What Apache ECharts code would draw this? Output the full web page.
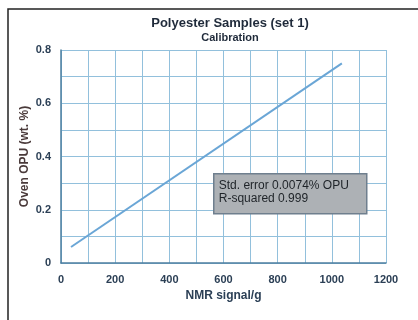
<!DOCTYPE html>
<html>
<head>
<meta charset="utf-8">
<script src="https://cdn.jsdelivr.net/npm/echarts@6/dist/echarts.min.js"></script>
<style>
html, body { margin: 0; padding: 0; background: #fff; }
#myChart { width: 418px; height: 320px; }
</style>
</head>
<body>
<div id="myChart"></div>
<script>
// calibration line
var nmrSignal = [37, 1037];
var ovenOpu = [0.06, 0.75];
var xTicks = [0, 200, 400, 600, 800, 1000, 1200];
var yTicks = [0, 0.2, 0.4, 0.6, 0.8];
var statLines = ['Std. error 0.0074% OPU', 'R-squared 0.999'];

var lineData = nmrSignal.map(function (x, i) { return [x, ovenOpu[i]]; });

var myChart = echarts.init(document.getElementById('myChart'));

var labelFont = {
	fontFamily: 'Liberation Sans',
	fontWeight: 'bold',
	fontSize: 11,
	color: '#2b3f55'
};

var option = {
	animation: false,
	backgroundColor: '#fff',
	title: {
		text: 'Polyester Samples (set 1)',
		subtext: 'Calibration',
		left: 225,
		textAlign: 'center',
		top: 12,
		itemGap: 2,
		textStyle: { fontFamily: 'Liberation Sans', fontWeight: 'bold', fontSize: 13, color: '#1f2a3a' },
		subtextStyle: { fontFamily: 'Liberation Sans', fontWeight: 'bold', fontSize: 11, color: '#1f2a3a' }
	},
	grid: { left: 61, top: 50, right: 32, bottom: 57 },
	xAxis: {
		type: 'value',
		min: 0,
		max: 1200,
		interval: 100,
		name: 'NMR signal/g',
		nameLocation: 'middle',
		nameGap: 27,
		nameMoveOverlap: false,
		nameTextStyle: Object.assign({}, labelFont, { fontSize: 12 }),
		axisLine: { show: true, lineStyle: { color: '#4d7fa0', width: 1.5 } },
		axisTick: { show: false },
		axisLabel: Object.assign({
			margin: 11,
			formatter: function (v) { return xTicks.indexOf(v) >= 0 ? String(v) : ''; }
		}, labelFont),
		splitLine: { show: true, lineStyle: { color: '#92c0dc', width: 1 } }
	},
	yAxis: {
		type: 'value',
		min: 0,
		max: 0.8,
		interval: 0.1,
		name: 'Oven OPU (wt. %)',
		nameLocation: 'middle',
		nameGap: 30,
		nameMoveOverlap: false,
		nameTextStyle: Object.assign({}, labelFont, { fontSize: 12, color: '#4a3a3a' }),
		axisLine: { show: true, lineStyle: { color: '#4d7fa0', width: 1.5 } },
		axisTick: { show: false },
		axisLabel: Object.assign({
			margin: 10,
			formatter: function (v) {
				var r = Math.round(v * 10) / 10;
				return yTicks.indexOf(r) >= 0 ? String(r) : '';
			}
		}, labelFont),
		splitLine: { show: true, lineStyle: { color: '#92c0dc', width: 1 } }
	},
	series: [
		{
			name: 'calibration',
			type: 'line',
			data: lineData,
			symbol: 'none',
			lineStyle: { color: '#6aa6d6', width: 2 }
		}
	],
	graphic: [
		{
			// outer frame
			type: 'rect',
			z: 100,
			shape: { x: 8, y: 9, width: 420, height: 320 },
			style: { fill: 'none', stroke: '#222', lineWidth: 1.5 },
			silent: true
		},
		{
			type: 'group',
			z: 100,
			left: 213,
			top: 173,
			children: [
				{
					type: 'rect',
					z: 100,
					shape: { x: 0, y: 0, width: 153, height: 40 },
					style: { fill: '#adb1b5', stroke: '#6f7f8e', lineWidth: 1.5 }
				},
				{
					type: 'text',
					z: 101,
					x: 5,
					y: 5,
					style: {
						text: statLines.join('\n'),
						font: '12px "Liberation Sans"',
						fill: '#1e2328',
						lineHeight: 13
					}
				}
			]
		}
	]
};

myChart.setOption(option);
</script>
</body>
</html>
